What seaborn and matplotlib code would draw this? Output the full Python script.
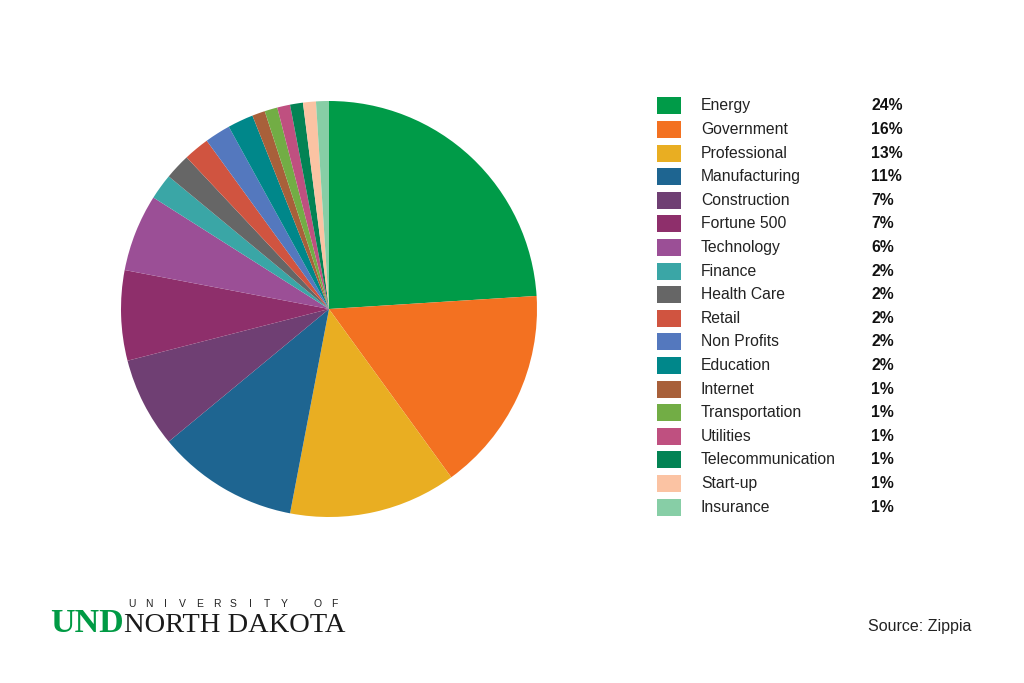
import matplotlib
matplotlib.use("Agg")
import matplotlib.pyplot as plt
from matplotlib.patches import Rectangle
import seaborn as sns

categories = ["Energy", "Government", "Professional", "Manufacturing", "Construction",
              "Fortune 500", "Technology", "Finance", "Health Care", "Retail",
              "Non Profits", "Education", "Internet", "Transportation", "Utilities",
              "Telecommunication", "Start-up", "Insurance"]
values = [24, 16, 13, 11, 7, 7, 6, 2, 2, 2, 2, 2, 1, 1, 1, 1, 1, 1]
pct_labels = [f"{v}%" for v in values]
colors = ["#009B48", "#F37121", "#E9AE22", "#1E6591", "#6F3F73", "#8E2F6B",
          "#9B4F96", "#3AA6A6", "#666666", "#D05440", "#5478BE", "#00878A",
          "#A8603A", "#72AD45", "#BF5080", "#038354", "#FBC3A3", "#87CEA6"]

sns.set_theme(style="white")
plt.rcParams['font.family'] = ['Liberation Sans', 'DejaVu Sans']

W, H = 1024, 683
fig = plt.figure(figsize=(W / 100, H / 100), dpi=100)
fig.patch.set_facecolor("white")

# Pie
cx, cy, r = 329, 309, 208
ax = fig.add_axes([(cx - r) / W, 1 - (cy + r) / H, 2 * r / W, 2 * r / H])
palette = sns.color_palette(colors)
ax.pie(values, colors=palette, startangle=90, counterclock=False,
       wedgeprops=dict(linewidth=0))
ax.set_xlim(-1, 1)
ax.set_ylim(-1, 1)
ax.set_aspect("equal")
ax.axis("off")

# Legend
lax = fig.add_axes([0, 0, 1, 1])
lax.set_xlim(0, W)
lax.set_ylim(H, 0)
lax.axis("off")
y0, dy = 105.8, 23.6
for i, (cat, pct, col) in enumerate(zip(categories, pct_labels, colors)):
    y = y0 + i * dy
    lax.add_patch(Rectangle((657, y - 8.5), 24, 17, facecolor=col, edgecolor="none"))
    lax.text(701, y, cat, fontsize=11.3, va="center", ha="left", color="#222222")
    lax.text(871, y, pct, fontsize=11.3, va="center", ha="left", fontweight="bold",
             color="#111111")

# Source
lax.text(868, 626, "Source: Zippia", fontsize=11.5, va="center", ha="left", color="#222222")

# Logo
lax.text(50, 632, "UND", fontsize=24.5, fontweight="bold", color="#009A44",
         family=["Liberation Serif", "DejaVu Serif"], va="baseline", ha="left")
for k, ch in enumerate("UNIVERSITY OF"):
    lax.text(132 + k * 16.9, 607, ch, fontsize=7.5, color="#222222",
             family=["Liberation Sans", "DejaVu Sans"], va="baseline", ha="center")
lax.text(124, 632, "NORTH DAKOTA", fontsize=20.5, color="#1a1a1a",
         family=["Liberation Serif", "DejaVu Serif"], va="baseline", ha="left")

fig.savefig("out.png", dpi=100, facecolor="white")
